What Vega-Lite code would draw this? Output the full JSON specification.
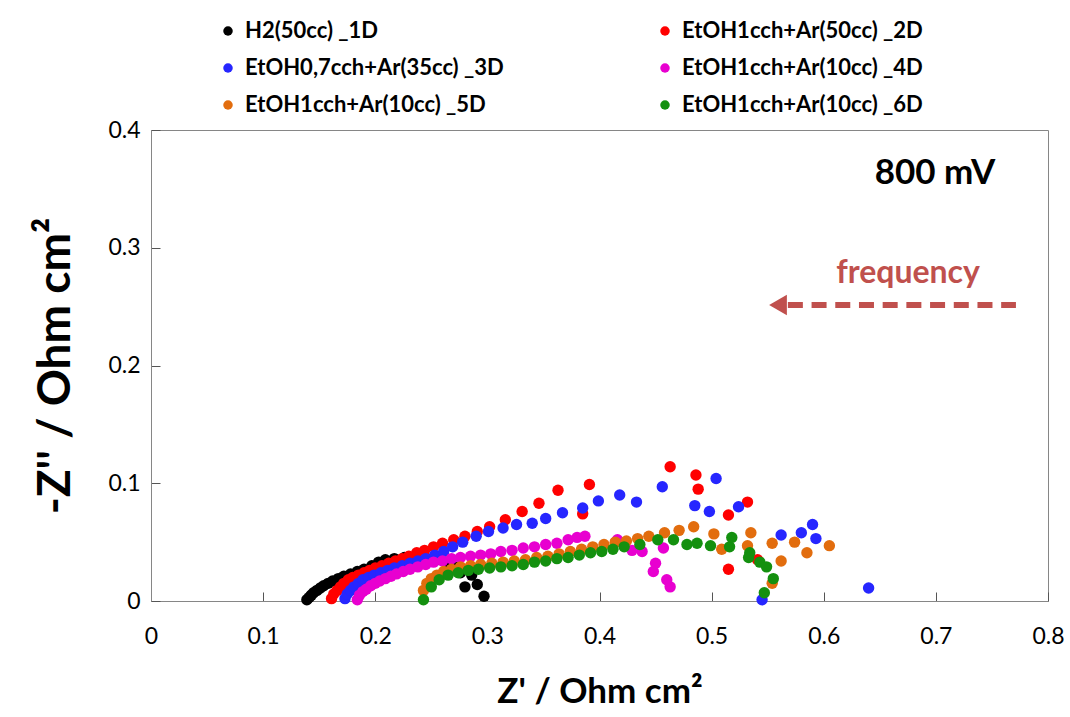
{
  "$schema": "https://vega.github.io/schema/vega-lite/v6.json",
  "width": 897,
  "height": 471,
  "autosize": {"type": "none"},
  "padding": {"left": 151, "top": 130, "right": 22, "bottom": 116},
  "background": "white",
  "config": {
    "font": "Lato",
    "view": {"stroke": "#868686", "strokeWidth": 1},
    "axis": {"grid": false, "domainColor": "#868686", "tickColor": "#555555", "labelColor": "black", "titleColor": "black", "labelFont": "Lato", "titleFont": "Lato"}
  },
  "datasets": {
    "eis": [
      {"series": "H2(50cc) _1D", "zr": 0.139, "zi": 0.001},
      {"series": "H2(50cc) _1D", "zr": 0.141, "zi": 0.003},
      {"series": "H2(50cc) _1D", "zr": 0.143, "zi": 0.005},
      {"series": "H2(50cc) _1D", "zr": 0.145, "zi": 0.007},
      {"series": "H2(50cc) _1D", "zr": 0.148, "zi": 0.009},
      {"series": "H2(50cc) _1D", "zr": 0.151, "zi": 0.011},
      {"series": "H2(50cc) _1D", "zr": 0.154, "zi": 0.013},
      {"series": "H2(50cc) _1D", "zr": 0.158, "zi": 0.015},
      {"series": "H2(50cc) _1D", "zr": 0.162, "zi": 0.017},
      {"series": "H2(50cc) _1D", "zr": 0.167, "zi": 0.019},
      {"series": "H2(50cc) _1D", "zr": 0.172, "zi": 0.021},
      {"series": "H2(50cc) _1D", "zr": 0.178, "zi": 0.023},
      {"series": "H2(50cc) _1D", "zr": 0.184, "zi": 0.025},
      {"series": "H2(50cc) _1D", "zr": 0.190, "zi": 0.027},
      {"series": "H2(50cc) _1D", "zr": 0.197, "zi": 0.030},
      {"series": "H2(50cc) _1D", "zr": 0.203, "zi": 0.033},
      {"series": "H2(50cc) _1D", "zr": 0.209, "zi": 0.035},
      {"series": "H2(50cc) _1D", "zr": 0.217, "zi": 0.036},
      {"series": "H2(50cc) _1D", "zr": 0.226, "zi": 0.037},
      {"series": "H2(50cc) _1D", "zr": 0.236, "zi": 0.037},
      {"series": "H2(50cc) _1D", "zr": 0.246, "zi": 0.036},
      {"series": "H2(50cc) _1D", "zr": 0.255, "zi": 0.035},
      {"series": "H2(50cc) _1D", "zr": 0.264, "zi": 0.033},
      {"series": "H2(50cc) _1D", "zr": 0.271, "zi": 0.029},
      {"series": "H2(50cc) _1D", "zr": 0.276, "zi": 0.024},
      {"series": "H2(50cc) _1D", "zr": 0.286, "zi": 0.022},
      {"series": "H2(50cc) _1D", "zr": 0.280, "zi": 0.012},
      {"series": "H2(50cc) _1D", "zr": 0.291, "zi": 0.014},
      {"series": "H2(50cc) _1D", "zr": 0.297, "zi": 0.004},

      {"series": "EtOH1cch+Ar(50cc) _2D", "zr": 0.161, "zi": 0.002},
      {"series": "EtOH1cch+Ar(50cc) _2D", "zr": 0.163, "zi": 0.006},
      {"series": "EtOH1cch+Ar(50cc) _2D", "zr": 0.166, "zi": 0.009},
      {"series": "EtOH1cch+Ar(50cc) _2D", "zr": 0.169, "zi": 0.012},
      {"series": "EtOH1cch+Ar(50cc) _2D", "zr": 0.172, "zi": 0.015},
      {"series": "EtOH1cch+Ar(50cc) _2D", "zr": 0.176, "zi": 0.018},
      {"series": "EtOH1cch+Ar(50cc) _2D", "zr": 0.180, "zi": 0.020},
      {"series": "EtOH1cch+Ar(50cc) _2D", "zr": 0.185, "zi": 0.022},
      {"series": "EtOH1cch+Ar(50cc) _2D", "zr": 0.190, "zi": 0.024},
      {"series": "EtOH1cch+Ar(50cc) _2D", "zr": 0.195, "zi": 0.026},
      {"series": "EtOH1cch+Ar(50cc) _2D", "zr": 0.200, "zi": 0.028},
      {"series": "EtOH1cch+Ar(50cc) _2D", "zr": 0.206, "zi": 0.030},
      {"series": "EtOH1cch+Ar(50cc) _2D", "zr": 0.212, "zi": 0.032},
      {"series": "EtOH1cch+Ar(50cc) _2D", "zr": 0.218, "zi": 0.034},
      {"series": "EtOH1cch+Ar(50cc) _2D", "zr": 0.224, "zi": 0.036},
      {"series": "EtOH1cch+Ar(50cc) _2D", "zr": 0.230, "zi": 0.038},
      {"series": "EtOH1cch+Ar(50cc) _2D", "zr": 0.237, "zi": 0.041},
      {"series": "EtOH1cch+Ar(50cc) _2D", "zr": 0.244, "zi": 0.043},
      {"series": "EtOH1cch+Ar(50cc) _2D", "zr": 0.252, "zi": 0.046},
      {"series": "EtOH1cch+Ar(50cc) _2D", "zr": 0.260, "zi": 0.049},
      {"series": "EtOH1cch+Ar(50cc) _2D", "zr": 0.270, "zi": 0.052},
      {"series": "EtOH1cch+Ar(50cc) _2D", "zr": 0.280, "zi": 0.055},
      {"series": "EtOH1cch+Ar(50cc) _2D", "zr": 0.291, "zi": 0.059},
      {"series": "EtOH1cch+Ar(50cc) _2D", "zr": 0.302, "zi": 0.063},
      {"series": "EtOH1cch+Ar(50cc) _2D", "zr": 0.316, "zi": 0.069},
      {"series": "EtOH1cch+Ar(50cc) _2D", "zr": 0.331, "zi": 0.076},
      {"series": "EtOH1cch+Ar(50cc) _2D", "zr": 0.346, "zi": 0.083},
      {"series": "EtOH1cch+Ar(50cc) _2D", "zr": 0.363, "zi": 0.094},
      {"series": "EtOH1cch+Ar(50cc) _2D", "zr": 0.391, "zi": 0.099},
      {"series": "EtOH1cch+Ar(50cc) _2D", "zr": 0.385, "zi": 0.074},
      {"series": "EtOH1cch+Ar(50cc) _2D", "zr": 0.463, "zi": 0.114},
      {"series": "EtOH1cch+Ar(50cc) _2D", "zr": 0.486, "zi": 0.107},
      {"series": "EtOH1cch+Ar(50cc) _2D", "zr": 0.488, "zi": 0.095},
      {"series": "EtOH1cch+Ar(50cc) _2D", "zr": 0.532, "zi": 0.084},
      {"series": "EtOH1cch+Ar(50cc) _2D", "zr": 0.515, "zi": 0.073},
      {"series": "EtOH1cch+Ar(50cc) _2D", "zr": 0.541, "zi": 0.035},
      {"series": "EtOH1cch+Ar(50cc) _2D", "zr": 0.515, "zi": 0.027},

      {"series": "EtOH0,7cch+Ar(35cc) _3D", "zr": 0.173, "zi": 0.002},
      {"series": "EtOH0,7cch+Ar(35cc) _3D", "zr": 0.175, "zi": 0.006},
      {"series": "EtOH0,7cch+Ar(35cc) _3D", "zr": 0.178, "zi": 0.009},
      {"series": "EtOH0,7cch+Ar(35cc) _3D", "zr": 0.181, "zi": 0.012},
      {"series": "EtOH0,7cch+Ar(35cc) _3D", "zr": 0.185, "zi": 0.015},
      {"series": "EtOH0,7cch+Ar(35cc) _3D", "zr": 0.189, "zi": 0.018},
      {"series": "EtOH0,7cch+Ar(35cc) _3D", "zr": 0.194, "zi": 0.020},
      {"series": "EtOH0,7cch+Ar(35cc) _3D", "zr": 0.199, "zi": 0.022},
      {"series": "EtOH0,7cch+Ar(35cc) _3D", "zr": 0.205, "zi": 0.024},
      {"series": "EtOH0,7cch+Ar(35cc) _3D", "zr": 0.211, "zi": 0.026},
      {"series": "EtOH0,7cch+Ar(35cc) _3D", "zr": 0.217, "zi": 0.028},
      {"series": "EtOH0,7cch+Ar(35cc) _3D", "zr": 0.224, "zi": 0.030},
      {"series": "EtOH0,7cch+Ar(35cc) _3D", "zr": 0.231, "zi": 0.032},
      {"series": "EtOH0,7cch+Ar(35cc) _3D", "zr": 0.238, "zi": 0.034},
      {"series": "EtOH0,7cch+Ar(35cc) _3D", "zr": 0.245, "zi": 0.036},
      {"series": "EtOH0,7cch+Ar(35cc) _3D", "zr": 0.253, "zi": 0.039},
      {"series": "EtOH0,7cch+Ar(35cc) _3D", "zr": 0.261, "zi": 0.042},
      {"series": "EtOH0,7cch+Ar(35cc) _3D", "zr": 0.269, "zi": 0.046},
      {"series": "EtOH0,7cch+Ar(35cc) _3D", "zr": 0.278, "zi": 0.050},
      {"series": "EtOH0,7cch+Ar(35cc) _3D", "zr": 0.290, "zi": 0.055},
      {"series": "EtOH0,7cch+Ar(35cc) _3D", "zr": 0.301, "zi": 0.059},
      {"series": "EtOH0,7cch+Ar(35cc) _3D", "zr": 0.314, "zi": 0.062},
      {"series": "EtOH0,7cch+Ar(35cc) _3D", "zr": 0.326, "zi": 0.065},
      {"series": "EtOH0,7cch+Ar(35cc) _3D", "zr": 0.340, "zi": 0.066},
      {"series": "EtOH0,7cch+Ar(35cc) _3D", "zr": 0.352, "zi": 0.070},
      {"series": "EtOH0,7cch+Ar(35cc) _3D", "zr": 0.367, "zi": 0.075},
      {"series": "EtOH0,7cch+Ar(35cc) _3D", "zr": 0.385, "zi": 0.079},
      {"series": "EtOH0,7cch+Ar(35cc) _3D", "zr": 0.399, "zi": 0.085},
      {"series": "EtOH0,7cch+Ar(35cc) _3D", "zr": 0.418, "zi": 0.090},
      {"series": "EtOH0,7cch+Ar(35cc) _3D", "zr": 0.433, "zi": 0.084},
      {"series": "EtOH0,7cch+Ar(35cc) _3D", "zr": 0.456, "zi": 0.097},
      {"series": "EtOH0,7cch+Ar(35cc) _3D", "zr": 0.485, "zi": 0.081},
      {"series": "EtOH0,7cch+Ar(35cc) _3D", "zr": 0.504, "zi": 0.104},
      {"series": "EtOH0,7cch+Ar(35cc) _3D", "zr": 0.498, "zi": 0.076},
      {"series": "EtOH0,7cch+Ar(35cc) _3D", "zr": 0.524, "zi": 0.080},
      {"series": "EtOH0,7cch+Ar(35cc) _3D", "zr": 0.562, "zi": 0.056},
      {"series": "EtOH0,7cch+Ar(35cc) _3D", "zr": 0.580, "zi": 0.058},
      {"series": "EtOH0,7cch+Ar(35cc) _3D", "zr": 0.590, "zi": 0.065},
      {"series": "EtOH0,7cch+Ar(35cc) _3D", "zr": 0.593, "zi": 0.053},
      {"series": "EtOH0,7cch+Ar(35cc) _3D", "zr": 0.640, "zi": 0.011},
      {"series": "EtOH0,7cch+Ar(35cc) _3D", "zr": 0.545, "zi": 0.001},

      {"series": "EtOH1cch+Ar(10cc) _4D", "zr": 0.184, "zi": 0.001},
      {"series": "EtOH1cch+Ar(10cc) _4D", "zr": 0.186, "zi": 0.005},
      {"series": "EtOH1cch+Ar(10cc) _4D", "zr": 0.189, "zi": 0.008},
      {"series": "EtOH1cch+Ar(10cc) _4D", "zr": 0.192, "zi": 0.010},
      {"series": "EtOH1cch+Ar(10cc) _4D", "zr": 0.196, "zi": 0.013},
      {"series": "EtOH1cch+Ar(10cc) _4D", "zr": 0.200, "zi": 0.015},
      {"series": "EtOH1cch+Ar(10cc) _4D", "zr": 0.204, "zi": 0.017},
      {"series": "EtOH1cch+Ar(10cc) _4D", "zr": 0.209, "zi": 0.019},
      {"series": "EtOH1cch+Ar(10cc) _4D", "zr": 0.214, "zi": 0.021},
      {"series": "EtOH1cch+Ar(10cc) _4D", "zr": 0.219, "zi": 0.023},
      {"series": "EtOH1cch+Ar(10cc) _4D", "zr": 0.225, "zi": 0.025},
      {"series": "EtOH1cch+Ar(10cc) _4D", "zr": 0.231, "zi": 0.027},
      {"series": "EtOH1cch+Ar(10cc) _4D", "zr": 0.238, "zi": 0.029},
      {"series": "EtOH1cch+Ar(10cc) _4D", "zr": 0.245, "zi": 0.031},
      {"series": "EtOH1cch+Ar(10cc) _4D", "zr": 0.252, "zi": 0.033},
      {"series": "EtOH1cch+Ar(10cc) _4D", "zr": 0.260, "zi": 0.034},
      {"series": "EtOH1cch+Ar(10cc) _4D", "zr": 0.268, "zi": 0.036},
      {"series": "EtOH1cch+Ar(10cc) _4D", "zr": 0.276, "zi": 0.037},
      {"series": "EtOH1cch+Ar(10cc) _4D", "zr": 0.285, "zi": 0.038},
      {"series": "EtOH1cch+Ar(10cc) _4D", "zr": 0.294, "zi": 0.039},
      {"series": "EtOH1cch+Ar(10cc) _4D", "zr": 0.303, "zi": 0.040},
      {"series": "EtOH1cch+Ar(10cc) _4D", "zr": 0.312, "zi": 0.042},
      {"series": "EtOH1cch+Ar(10cc) _4D", "zr": 0.322, "zi": 0.043},
      {"series": "EtOH1cch+Ar(10cc) _4D", "zr": 0.332, "zi": 0.045},
      {"series": "EtOH1cch+Ar(10cc) _4D", "zr": 0.342, "zi": 0.046},
      {"series": "EtOH1cch+Ar(10cc) _4D", "zr": 0.352, "zi": 0.048},
      {"series": "EtOH1cch+Ar(10cc) _4D", "zr": 0.362, "zi": 0.049},
      {"series": "EtOH1cch+Ar(10cc) _4D", "zr": 0.372, "zi": 0.052},
      {"series": "EtOH1cch+Ar(10cc) _4D", "zr": 0.380, "zi": 0.054},
      {"series": "EtOH1cch+Ar(10cc) _4D", "zr": 0.387, "zi": 0.055},
      {"series": "EtOH1cch+Ar(10cc) _4D", "zr": 0.416, "zi": 0.052},
      {"series": "EtOH1cch+Ar(10cc) _4D", "zr": 0.429, "zi": 0.043},
      {"series": "EtOH1cch+Ar(10cc) _4D", "zr": 0.438, "zi": 0.042},
      {"series": "EtOH1cch+Ar(10cc) _4D", "zr": 0.457, "zi": 0.045},
      {"series": "EtOH1cch+Ar(10cc) _4D", "zr": 0.450, "zi": 0.032},
      {"series": "EtOH1cch+Ar(10cc) _4D", "zr": 0.448, "zi": 0.025},
      {"series": "EtOH1cch+Ar(10cc) _4D", "zr": 0.460, "zi": 0.018},
      {"series": "EtOH1cch+Ar(10cc) _4D", "zr": 0.463, "zi": 0.012},

      {"series": "EtOH1cch+Ar(10cc) _5D", "zr": 0.243, "zi": 0.009},
      {"series": "EtOH1cch+Ar(10cc) _5D", "zr": 0.246, "zi": 0.015},
      {"series": "EtOH1cch+Ar(10cc) _5D", "zr": 0.250, "zi": 0.019},
      {"series": "EtOH1cch+Ar(10cc) _5D", "zr": 0.255, "zi": 0.022},
      {"series": "EtOH1cch+Ar(10cc) _5D", "zr": 0.261, "zi": 0.025},
      {"series": "EtOH1cch+Ar(10cc) _5D", "zr": 0.268, "zi": 0.027},
      {"series": "EtOH1cch+Ar(10cc) _5D", "zr": 0.276, "zi": 0.029},
      {"series": "EtOH1cch+Ar(10cc) _5D", "zr": 0.285, "zi": 0.030},
      {"series": "EtOH1cch+Ar(10cc) _5D", "zr": 0.294, "zi": 0.031},
      {"series": "EtOH1cch+Ar(10cc) _5D", "zr": 0.304, "zi": 0.032},
      {"series": "EtOH1cch+Ar(10cc) _5D", "zr": 0.314, "zi": 0.033},
      {"series": "EtOH1cch+Ar(10cc) _5D", "zr": 0.324, "zi": 0.034},
      {"series": "EtOH1cch+Ar(10cc) _5D", "zr": 0.334, "zi": 0.035},
      {"series": "EtOH1cch+Ar(10cc) _5D", "zr": 0.344, "zi": 0.037},
      {"series": "EtOH1cch+Ar(10cc) _5D", "zr": 0.354, "zi": 0.038},
      {"series": "EtOH1cch+Ar(10cc) _5D", "zr": 0.364, "zi": 0.040},
      {"series": "EtOH1cch+Ar(10cc) _5D", "zr": 0.374, "zi": 0.042},
      {"series": "EtOH1cch+Ar(10cc) _5D", "zr": 0.384, "zi": 0.044},
      {"series": "EtOH1cch+Ar(10cc) _5D", "zr": 0.394, "zi": 0.046},
      {"series": "EtOH1cch+Ar(10cc) _5D", "zr": 0.404, "zi": 0.048},
      {"series": "EtOH1cch+Ar(10cc) _5D", "zr": 0.414, "zi": 0.050},
      {"series": "EtOH1cch+Ar(10cc) _5D", "zr": 0.424, "zi": 0.051},
      {"series": "EtOH1cch+Ar(10cc) _5D", "zr": 0.434, "zi": 0.053},
      {"series": "EtOH1cch+Ar(10cc) _5D", "zr": 0.444, "zi": 0.055},
      {"series": "EtOH1cch+Ar(10cc) _5D", "zr": 0.458, "zi": 0.058},
      {"series": "EtOH1cch+Ar(10cc) _5D", "zr": 0.471, "zi": 0.060},
      {"series": "EtOH1cch+Ar(10cc) _5D", "zr": 0.484, "zi": 0.063},
      {"series": "EtOH1cch+Ar(10cc) _5D", "zr": 0.502, "zi": 0.057},
      {"series": "EtOH1cch+Ar(10cc) _5D", "zr": 0.509, "zi": 0.044},
      {"series": "EtOH1cch+Ar(10cc) _5D", "zr": 0.535, "zi": 0.058},
      {"series": "EtOH1cch+Ar(10cc) _5D", "zr": 0.532, "zi": 0.047},
      {"series": "EtOH1cch+Ar(10cc) _5D", "zr": 0.554, "zi": 0.049},
      {"series": "EtOH1cch+Ar(10cc) _5D", "zr": 0.574, "zi": 0.050},
      {"series": "EtOH1cch+Ar(10cc) _5D", "zr": 0.585, "zi": 0.041},
      {"series": "EtOH1cch+Ar(10cc) _5D", "zr": 0.605, "zi": 0.047},
      {"series": "EtOH1cch+Ar(10cc) _5D", "zr": 0.562, "zi": 0.034},
      {"series": "EtOH1cch+Ar(10cc) _5D", "zr": 0.554, "zi": 0.015},

      {"series": "EtOH1cch+Ar(10cc) _6D", "zr": 0.243, "zi": 0.001},
      {"series": "EtOH1cch+Ar(10cc) _6D", "zr": 0.250, "zi": 0.012},
      {"series": "EtOH1cch+Ar(10cc) _6D", "zr": 0.257, "zi": 0.018},
      {"series": "EtOH1cch+Ar(10cc) _6D", "zr": 0.265, "zi": 0.022},
      {"series": "EtOH1cch+Ar(10cc) _6D", "zr": 0.274, "zi": 0.024},
      {"series": "EtOH1cch+Ar(10cc) _6D", "zr": 0.283, "zi": 0.026},
      {"series": "EtOH1cch+Ar(10cc) _6D", "zr": 0.292, "zi": 0.027},
      {"series": "EtOH1cch+Ar(10cc) _6D", "zr": 0.302, "zi": 0.028},
      {"series": "EtOH1cch+Ar(10cc) _6D", "zr": 0.312, "zi": 0.029},
      {"series": "EtOH1cch+Ar(10cc) _6D", "zr": 0.322, "zi": 0.030},
      {"series": "EtOH1cch+Ar(10cc) _6D", "zr": 0.332, "zi": 0.031},
      {"series": "EtOH1cch+Ar(10cc) _6D", "zr": 0.342, "zi": 0.033},
      {"series": "EtOH1cch+Ar(10cc) _6D", "zr": 0.352, "zi": 0.034},
      {"series": "EtOH1cch+Ar(10cc) _6D", "zr": 0.362, "zi": 0.036},
      {"series": "EtOH1cch+Ar(10cc) _6D", "zr": 0.372, "zi": 0.037},
      {"series": "EtOH1cch+Ar(10cc) _6D", "zr": 0.382, "zi": 0.039},
      {"series": "EtOH1cch+Ar(10cc) _6D", "zr": 0.392, "zi": 0.041},
      {"series": "EtOH1cch+Ar(10cc) _6D", "zr": 0.402, "zi": 0.042},
      {"series": "EtOH1cch+Ar(10cc) _6D", "zr": 0.412, "zi": 0.044},
      {"series": "EtOH1cch+Ar(10cc) _6D", "zr": 0.422, "zi": 0.046},
      {"series": "EtOH1cch+Ar(10cc) _6D", "zr": 0.436, "zi": 0.048},
      {"series": "EtOH1cch+Ar(10cc) _6D", "zr": 0.452, "zi": 0.052},
      {"series": "EtOH1cch+Ar(10cc) _6D", "zr": 0.466, "zi": 0.052},
      {"series": "EtOH1cch+Ar(10cc) _6D", "zr": 0.478, "zi": 0.048},
      {"series": "EtOH1cch+Ar(10cc) _6D", "zr": 0.487, "zi": 0.049},
      {"series": "EtOH1cch+Ar(10cc) _6D", "zr": 0.499, "zi": 0.047},
      {"series": "EtOH1cch+Ar(10cc) _6D", "zr": 0.516, "zi": 0.046},
      {"series": "EtOH1cch+Ar(10cc) _6D", "zr": 0.518, "zi": 0.054},
      {"series": "EtOH1cch+Ar(10cc) _6D", "zr": 0.534, "zi": 0.041},
      {"series": "EtOH1cch+Ar(10cc) _6D", "zr": 0.533, "zi": 0.037},
      {"series": "EtOH1cch+Ar(10cc) _6D", "zr": 0.543, "zi": 0.033},
      {"series": "EtOH1cch+Ar(10cc) _6D", "zr": 0.549, "zi": 0.029},
      {"series": "EtOH1cch+Ar(10cc) _6D", "zr": 0.555, "zi": 0.019},
      {"series": "EtOH1cch+Ar(10cc) _6D", "zr": 0.547, "zi": 0.007}
    ]
  },
  "layer": [
    {
      "data": {"name": "eis"},
      "mark": {"type": "point", "filled": true, "size": 130, "opacity": 1, "strokeWidth": 0},
      "encoding": {
        "x": {
          "field": "zr", "type": "quantitative",
          "scale": {"domain": [0, 0.8], "nice": false, "zero": false},
          "axis": {
            "values": [0, 0.1, 0.2, 0.3, 0.4, 0.5, 0.6, 0.7, 0.8],
            "labelExpr": "datum.value == 0 ? '0' : format(datum.value, '.1f')",
            "title": "Z' / Ohm cm²",
            "titleFontSize": 35, "titleFontWeight": "bold", "titlePadding": 26,
            "labelFontSize": 23, "labelPadding": 33, "tickSize": -9, "labelFlush": false
          }
        },
        "y": {
          "field": "zi", "type": "quantitative",
          "scale": {"domain": [0, 0.4], "nice": false, "zero": false},
          "axis": {
            "values": [0, 0.1, 0.2, 0.3, 0.4],
            "labelExpr": "datum.value == 0 ? '0' : format(datum.value, '.1f')",
            "title": "-Z'' / Ohm cm²",
            "titleFontSize": 46, "titleFontWeight": "bold", "titlePadding": 28,
            "labelFontSize": 23, "labelPadding": 20, "tickSize": -9, "labelFlush": false
          }
        },
        "color": {
          "field": "series", "type": "nominal",
          "scale": {
            "domain": ["H2(50cc) _1D", "EtOH0,7cch+Ar(35cc) _3D", "EtOH1cch+Ar(10cc) _5D", "EtOH1cch+Ar(50cc) _2D", "EtOH1cch+Ar(10cc) _4D", "EtOH1cch+Ar(10cc) _6D"],
            "range": ["#000000", "#2626ff", "#e26d0e", "#ff0000", "#e800d0", "#14900f"]
          },
          "legend": {
            "orient": "none", "legendX": 66, "legendY": -110,
            "columns": 2, "columnPadding": 150, "rowPadding": 15,
            "title": null, "padding": 0,
            "labelFont": "Lato", "labelFontSize": 22, "labelFontWeight": "bold", "labelColor": "black",
            "labelOffset": 6, "labelLimit": 400,
            "symbolType": "circle", "symbolSize": 90, "symbolStrokeWidth": 0
          }
        }
      }
    },
    {
      "data": {"values": [{"zr": 0.568, "zr2": 0.7714, "zi": 0.2514}]},
      "mark": {"type": "rule", "color": "#c0504d", "strokeWidth": 6, "strokeDash": [15, 8.7]},
      "encoding": {
        "x": {"field": "zr", "type": "quantitative"},
        "x2": {"field": "zr2"},
        "y": {"field": "zi", "type": "quantitative"}
      }
    },
    {
      "data": {"values": [{"zr": 0.5592, "zi": 0.2514}]},
      "mark": {"type": "point", "shape": "triangle-left", "filled": true, "size": 420, "color": "#c0504d", "opacity": 1, "strokeWidth": 0},
      "encoding": {
        "x": {"field": "zr", "type": "quantitative"},
        "y": {"field": "zi", "type": "quantitative"}
      }
    },
    {
      "data": {"values": [{"label": "frequency", "zr": 0.6752, "zi": 0.2786}]},
      "mark": {"type": "text", "font": "Lato", "fontSize": 32, "fontWeight": "bold", "color": "#c0504d", "align": "center", "baseline": "middle"},
      "encoding": {
        "x": {"field": "zr", "type": "quantitative"},
        "y": {"field": "zi", "type": "quantitative"},
        "text": {"field": "label"}
      }
    },
    {
      "data": {"values": [{"label": "800 mV", "zr": 0.6992, "zi": 0.3635}]},
      "mark": {"type": "text", "font": "Lato", "fontSize": 35, "fontWeight": "bold", "color": "black", "align": "center", "baseline": "middle"},
      "encoding": {
        "x": {"field": "zr", "type": "quantitative"},
        "y": {"field": "zi", "type": "quantitative"},
        "text": {"field": "label"}
      }
    }
  ]
}
